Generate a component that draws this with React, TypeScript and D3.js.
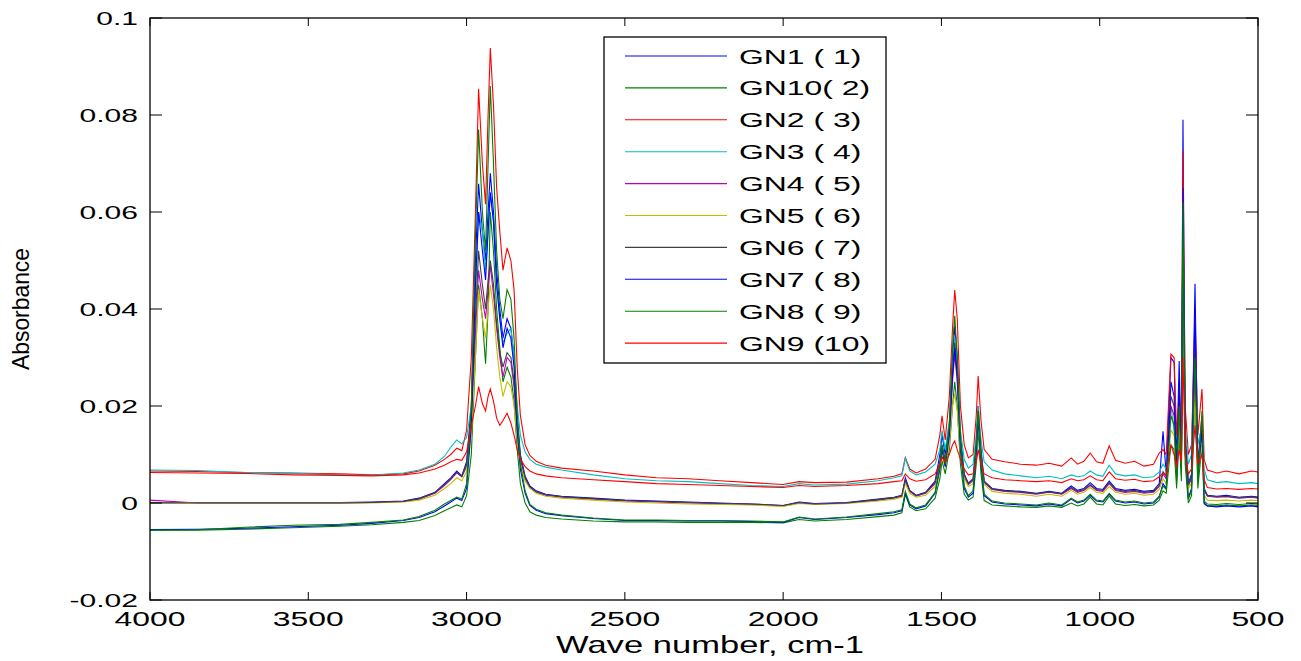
import React from "react";
import * as d3 from "d3";

const wavenumbers = [
  4000, 3850, 3700, 3550, 3400, 3300, 3200, 3150, 3100, 3070, 3050, 3031, 3015, 3000, 2985, 2972, 2962, 2950, 2940, 2932,
  2925, 2915, 2905, 2895, 2885, 2872, 2860, 2850, 2840, 2830, 2815, 2800, 2780, 2750, 2700, 2600, 2500, 2400, 2300, 2200,
  2100, 2000, 1950, 1900, 1800, 1700, 1650, 1625, 1614, 1600, 1580, 1550, 1520, 1505, 1498, 1488, 1475, 1465, 1458, 1450,
  1440, 1428, 1415, 1400, 1390, 1384, 1375, 1365, 1340, 1300, 1250, 1200, 1160, 1120, 1090, 1070, 1050, 1030, 1010, 990,
  970, 950, 920, 890, 860, 830, 812, 800, 790, 775, 765, 757, 749, 742, 737, 730, 720, 710, 699, 690,
  677, 670, 660, 630, 600, 560, 520, 500,
];

const GN1 = [
  0.0001, 0.0001, 0.0001, 0.0001, 0.0001, 0.0002, 0.0004, 0.0010, 0.0022, 0.0040, 0.0052, 0.0066, 0.0056, 0.0085, 0.0200, 0.0500, 0.0658, 0.0560, 0.0500, 0.0600,
  0.0680, 0.0600, 0.0480, 0.0400, 0.0340, 0.0380, 0.0360, 0.0300, 0.0180, 0.0100, 0.0055, 0.0035, 0.0025, 0.0018, 0.0014, 0.0010, 0.0006, 0.0004, 0.0002, 0.0000,
  -0.0002, -0.0005, 0.0002, -0.0001, 0.0001, 0.0008, 0.0012, 0.0016, 0.0052, 0.0026, 0.0016, 0.0022, 0.0045, 0.0100, 0.0140, 0.0100, 0.0160, 0.0300, 0.0365, 0.0300,
  0.0140, 0.0060, 0.0041, 0.0050, 0.0130, 0.0200, 0.0110, 0.0045, 0.0030, 0.0026, 0.0024, 0.0020, 0.0024, 0.0020, 0.0035, 0.0026, 0.0030, 0.0042, 0.0030, 0.0028,
  0.0045, 0.0030, 0.0026, 0.0028, 0.0024, 0.0026, 0.0040, 0.0148, 0.0060, 0.0300, 0.0290, 0.0080, 0.0293, 0.0100, 0.0790, 0.0150, 0.0040, 0.0060, 0.0452, 0.0080,
  0.0180, 0.0030, 0.0016, 0.0014, 0.0016, 0.0012, 0.0014, 0.0012,
];

const GN10 = [
  -0.0056, -0.0056, -0.0054, -0.0051, -0.0048, -0.0045, -0.0040, -0.0036, -0.0026, -0.0016, -0.0010, -0.0004, -0.0008, 0.0015, 0.0100, 0.0300, 0.0450, 0.0380, 0.0287, 0.0400,
  0.0600, 0.0520, 0.0400, 0.0320, 0.0250, 0.0280, 0.0260, 0.0210, 0.0110, 0.0040, 0.0000, -0.0018, -0.0025, -0.0030, -0.0033, -0.0037, -0.0039, -0.0039, -0.0040, -0.0040,
  -0.0040, -0.0041, -0.0034, -0.0037, -0.0034, -0.0028, -0.0025, -0.0020, 0.0018, -0.0008, -0.0016, -0.0012, 0.0010, 0.0050, 0.0087, 0.0060, 0.0110, 0.0200, 0.0250, 0.0200,
  0.0080, 0.0018, 0.0006, 0.0012, 0.0080, 0.0150, 0.0060, 0.0005, -0.0004, -0.0006, -0.0008, -0.0009, -0.0006, -0.0009, 0.0000, -0.0006, -0.0002, 0.0012, -0.0002, -0.0004,
  0.0014, -0.0002, -0.0005, -0.0003, -0.0006, -0.0004, 0.0006, 0.0025, 0.0020, 0.0120, 0.0110, 0.0030, 0.0140, 0.0045, 0.0480, 0.0080, 0.0000, 0.0015, 0.0220, 0.0030,
  0.0120, -0.0002, -0.0006, -0.0006, -0.0004, -0.0006, -0.0004, -0.0005,
];

const GN2 = [
  0.0066, 0.0065, 0.0063, 0.0062, 0.0060, 0.0058, 0.0060, 0.0066, 0.0078, 0.0090, 0.0100, 0.0113, 0.0108, 0.0150, 0.0300, 0.0600, 0.0854, 0.0700, 0.0616, 0.0800,
  0.0938, 0.0820, 0.0650, 0.0560, 0.0480, 0.0526, 0.0500, 0.0440, 0.0280, 0.0180, 0.0120, 0.0098, 0.0086, 0.0078, 0.0072, 0.0066, 0.0058, 0.0052, 0.0050, 0.0046,
  0.0042, 0.0038, 0.0044, 0.0042, 0.0043, 0.0050, 0.0055, 0.0060, 0.0094, 0.0070, 0.0062, 0.0070, 0.0090, 0.0140, 0.0180, 0.0130, 0.0220, 0.0360, 0.0439, 0.0380,
  0.0200, 0.0120, 0.0093, 0.0100, 0.0180, 0.0262, 0.0170, 0.0110, 0.0090, 0.0085, 0.0080, 0.0078, 0.0082, 0.0076, 0.0093, 0.0080, 0.0086, 0.0103, 0.0085, 0.0082,
  0.0118, 0.0088, 0.0082, 0.0086, 0.0076, 0.0080, 0.0103, 0.0110, 0.0100, 0.0307, 0.0300, 0.0140, 0.0230, 0.0150, 0.0726, 0.0200, 0.0100, 0.0120, 0.0380, 0.0140,
  0.0235, 0.0090, 0.0068, 0.0062, 0.0066, 0.0060, 0.0066, 0.0064,
];

const GN3 = [
  0.0068, 0.0067, 0.0063, 0.0061, 0.0058, 0.0057, 0.0062, 0.0068, 0.0080, 0.0096, 0.0115, 0.0130, 0.0122, 0.0135, 0.0200, 0.0420, 0.0600, 0.0560, 0.0480, 0.0560,
  0.0640, 0.0580, 0.0450, 0.0380, 0.0330, 0.0350, 0.0360, 0.0300, 0.0200, 0.0140, 0.0105, 0.0090, 0.0080, 0.0074, 0.0068, 0.0058, 0.0050, 0.0046, 0.0044, 0.0040,
  0.0036, 0.0034, 0.0040, 0.0037, 0.0039, 0.0046, 0.0052, 0.0056, 0.0092, 0.0066, 0.0058, 0.0064, 0.0080, 0.0110, 0.0150, 0.0110, 0.0170, 0.0280, 0.0340, 0.0290,
  0.0150, 0.0090, 0.0072, 0.0080, 0.0140, 0.0200, 0.0130, 0.0085, 0.0068, 0.0060, 0.0056, 0.0052, 0.0055, 0.0050, 0.0058, 0.0054, 0.0056, 0.0066, 0.0058, 0.0055,
  0.0078, 0.0060, 0.0056, 0.0058, 0.0052, 0.0054, 0.0064, 0.0080, 0.0070, 0.0200, 0.0150, 0.0100, 0.0180, 0.0120, 0.0600, 0.0160, 0.0080, 0.0100, 0.0330, 0.0120,
  0.0160, 0.0070, 0.0048, 0.0042, 0.0044, 0.0040, 0.0042, 0.0040,
];

const GN4 = [
  0.0006, 0.0000, 0.0000, 0.0000, 0.0000, 0.0001, 0.0003, 0.0008, 0.0020, 0.0036, 0.0048, 0.0062, 0.0054, 0.0075, 0.0160, 0.0350, 0.0480, 0.0420, 0.0380, 0.0440,
  0.0490, 0.0430, 0.0360, 0.0300, 0.0260, 0.0300, 0.0290, 0.0240, 0.0150, 0.0090, 0.0050, 0.0032, 0.0022, 0.0016, 0.0012, 0.0008, 0.0004, 0.0002, 0.0000, -0.0001,
  -0.0003, -0.0006, 0.0000, -0.0002, 0.0000, 0.0006, 0.0010, 0.0014, 0.0046, 0.0024, 0.0014, 0.0020, 0.0040, 0.0080, 0.0110, 0.0085, 0.0140, 0.0250, 0.0307, 0.0250,
  0.0120, 0.0055, 0.0038, 0.0046, 0.0110, 0.0180, 0.0100, 0.0042, 0.0028, 0.0024, 0.0022, 0.0018, 0.0022, 0.0018, 0.0030, 0.0022, 0.0026, 0.0036, 0.0026, 0.0024,
  0.0040, 0.0026, 0.0022, 0.0024, 0.0020, 0.0022, 0.0034, 0.0060, 0.0050, 0.0200, 0.0180, 0.0070, 0.0200, 0.0090, 0.0555, 0.0120, 0.0035, 0.0050, 0.0280, 0.0070,
  0.0150, 0.0026, 0.0014, 0.0012, 0.0013, 0.0010, 0.0012, 0.0010,
];

const GN5 = [
  0.0000, 0.0000, 0.0000, 0.0000, 0.0000, 0.0000, 0.0002, 0.0006, 0.0016, 0.0030, 0.0040, 0.0052, 0.0046, 0.0065, 0.0140, 0.0300, 0.0440, 0.0380, 0.0340, 0.0400,
  0.0450, 0.0400, 0.0320, 0.0260, 0.0220, 0.0250, 0.0240, 0.0200, 0.0130, 0.0080, 0.0045, 0.0030, 0.0020, 0.0014, 0.0010, 0.0006, 0.0002, 0.0000, -0.0002, -0.0003,
  -0.0004, -0.0007, -0.0001, -0.0003, -0.0001, 0.0004, 0.0008, 0.0012, 0.0040, 0.0020, 0.0012, 0.0016, 0.0034, 0.0070, 0.0095, 0.0075, 0.0120, 0.0200, 0.0225, 0.0190,
  0.0100, 0.0050, 0.0034, 0.0040, 0.0095, 0.0160, 0.0090, 0.0038, 0.0024, 0.0020, 0.0018, 0.0014, 0.0018, 0.0014, 0.0026, 0.0018, 0.0022, 0.0032, 0.0022, 0.0020,
  0.0034, 0.0022, 0.0018, 0.0020, 0.0016, 0.0018, 0.0028, 0.0050, 0.0040, 0.0150, 0.0140, 0.0060, 0.0160, 0.0080, 0.0450, 0.0100, 0.0030, 0.0040, 0.0220, 0.0060,
  0.0120, 0.0016, 0.0006, 0.0005, 0.0006, 0.0004, 0.0006, 0.0005,
];

const GN6 = [
  0.0000, 0.0000, 0.0000, 0.0000, 0.0000, 0.0001, 0.0003, 0.0009, 0.0021, 0.0038, 0.0050, 0.0064, 0.0055, 0.0080, 0.0180, 0.0380, 0.0520, 0.0450, 0.0400, 0.0460,
  0.0500, 0.0450, 0.0370, 0.0310, 0.0280, 0.0310, 0.0300, 0.0250, 0.0160, 0.0095, 0.0052, 0.0033, 0.0023, 0.0017, 0.0013, 0.0009, 0.0005, 0.0003, 0.0001, -0.0001,
  -0.0002, -0.0005, 0.0001, -0.0002, 0.0000, 0.0007, 0.0011, 0.0015, 0.0048, 0.0025, 0.0015, 0.0021, 0.0042, 0.0085, 0.0120, 0.0090, 0.0150, 0.0270, 0.0330, 0.0270,
  0.0130, 0.0058, 0.0040, 0.0048, 0.0120, 0.0190, 0.0105, 0.0044, 0.0029, 0.0025, 0.0023, 0.0019, 0.0023, 0.0019, 0.0032, 0.0024, 0.0028, 0.0038, 0.0028, 0.0026,
  0.0042, 0.0028, 0.0024, 0.0026, 0.0022, 0.0024, 0.0036, 0.0065, 0.0055, 0.0220, 0.0200, 0.0075, 0.0220, 0.0095, 0.0600, 0.0130, 0.0038, 0.0055, 0.0320, 0.0075,
  0.0160, 0.0028, 0.0015, 0.0013, 0.0014, 0.0011, 0.0013, 0.0011,
];

const GN7 = [
  -0.0055, -0.0054, -0.0052, -0.0049, -0.0046, -0.0042, -0.0036, -0.0030, -0.0018, -0.0006, 0.0002, 0.0010, 0.0005, 0.0030, 0.0160, 0.0450, 0.0600, 0.0520, 0.0460, 0.0560,
  0.0640, 0.0580, 0.0450, 0.0380, 0.0320, 0.0360, 0.0340, 0.0280, 0.0150, 0.0070, 0.0020, -0.0005, -0.0015, -0.0022, -0.0026, -0.0032, -0.0036, -0.0036, -0.0037, -0.0037,
  -0.0038, -0.0040, -0.0030, -0.0034, -0.0030, -0.0024, -0.0020, -0.0016, 0.0020, -0.0004, -0.0012, -0.0006, 0.0020, 0.0070, 0.0110, 0.0075, 0.0140, 0.0260, 0.0320, 0.0260,
  0.0110, 0.0030, 0.0012, 0.0020, 0.0100, 0.0175, 0.0080, 0.0015, 0.0002, -0.0002, -0.0004, -0.0006, -0.0002, -0.0006, 0.0008, 0.0000, 0.0004, 0.0016, 0.0004, 0.0002,
  0.0018, 0.0004, 0.0000, 0.0002, -0.0002, 0.0000, 0.0012, 0.0040, 0.0030, 0.0250, 0.0220, 0.0050, 0.0250, 0.0070, 0.0650, 0.0110, 0.0010, 0.0030, 0.0400, 0.0050,
  0.0150, 0.0000, -0.0006, -0.0008, -0.0006, -0.0008, -0.0006, -0.0008,
];

const GN8 = [
  -0.0056, -0.0055, -0.0050, -0.0046, -0.0044, -0.0040, -0.0035, -0.0028, -0.0015, -0.0002, 0.0005, 0.0012, 0.0008, 0.0040, 0.0200, 0.0550, 0.0770, 0.0600, 0.0520, 0.0700,
  0.0860, 0.0700, 0.0520, 0.0420, 0.0380, 0.0440, 0.0420, 0.0340, 0.0180, 0.0080, 0.0025, -0.0003, -0.0013, -0.0020, -0.0025, -0.0031, -0.0035, -0.0035, -0.0036, -0.0036,
  -0.0037, -0.0039, -0.0029, -0.0033, -0.0029, -0.0022, -0.0018, -0.0014, 0.0024, -0.0002, -0.0010, -0.0004, 0.0022, 0.0075, 0.0120, 0.0080, 0.0160, 0.0320, 0.0386, 0.0300,
  0.0120, 0.0035, 0.0015, 0.0025, 0.0120, 0.0190, 0.0090, 0.0018, 0.0004, 0.0000, -0.0002, -0.0004, 0.0000, -0.0004, 0.0010, 0.0002, 0.0006, 0.0018, 0.0006, 0.0004,
  0.0020, 0.0006, 0.0002, 0.0004, 0.0000, 0.0002, 0.0014, 0.0035, 0.0028, 0.0180, 0.0160, 0.0045, 0.0200, 0.0060, 0.0620, 0.0100, 0.0008, 0.0025, 0.0300, 0.0045,
  0.0190, 0.0004, -0.0002, -0.0003, -0.0001, -0.0003, -0.0001, -0.0002,
];

const GN9 = [
  0.0063, 0.0062, 0.0061, 0.0058, 0.0057, 0.0056, 0.0058, 0.0062, 0.0070, 0.0078, 0.0085, 0.0090, 0.0088, 0.0105, 0.0160, 0.0200, 0.0240, 0.0205, 0.0190, 0.0220,
  0.0235, 0.0210, 0.0175, 0.0160, 0.0170, 0.0185, 0.0165, 0.0140, 0.0110, 0.0090, 0.0075, 0.0066, 0.0060, 0.0056, 0.0052, 0.0048, 0.0044, 0.0040, 0.0038, 0.0036,
  0.0034, 0.0032, 0.0036, 0.0034, 0.0036, 0.0040, 0.0044, 0.0046, 0.0060, 0.0050, 0.0045, 0.0048, 0.0060, 0.0080, 0.0095, 0.0085, 0.0100, 0.0120, 0.0128, 0.0110,
  0.0090, 0.0070, 0.0058, 0.0060, 0.0085, 0.0110, 0.0080, 0.0060, 0.0052, 0.0048, 0.0046, 0.0044, 0.0046, 0.0042, 0.0050, 0.0046, 0.0048, 0.0056, 0.0048, 0.0046,
  0.0064, 0.0050, 0.0047, 0.0049, 0.0044, 0.0046, 0.0054, 0.0062, 0.0058, 0.0120, 0.0100, 0.0075, 0.0110, 0.0085, 0.0300, 0.0100, 0.0060, 0.0070, 0.0160, 0.0080,
  0.0100, 0.0048, 0.0032, 0.0029, 0.0030, 0.0028, 0.0030, 0.0029,
];

const seriesNames = ["GN1 ( 1)", "GN10( 2)", "GN2 ( 3)", "GN3 ( 4)", "GN4 ( 5)", "GN5 ( 6)", "GN6 ( 7)", "GN7 ( 8)", "GN8 ( 9)", "GN9 (10)"];
const seriesValues = [GN1, GN10, GN2, GN3, GN4, GN5, GN6, GN7, GN8, GN9];
const seriesColors = ["#0000ff", "#008000", "#ff0000", "#00bfbf", "#bf00bf", "#bfbf00", "#404040", "#0000ff", "#008000", "#ff0000"];

const xTicks = [4000, 3500, 3000, 2500, 2000, 1500, 1000, 500];
const xTickLabels = ["4000", "3500", "3000", "2500", "2000", "1500", "1000", "500"];
const yTicks = [-0.02, 0, 0.02, 0.04, 0.06, 0.08, 0.1];
const yTickLabels = ["-0.02", "0", "0.02", "0.04", "0.06", "0.08", "0.1"];

const FONT = "'Liberation Sans', Arial, sans-serif";

export default function App() {
  const W = 1301;
  const H = 661;
  const left = 150, right = 1258, top = 18, bottom = 600;
  const x = d3.scaleLinear().domain([4000, 500]).range([left, right]);
  const y = d3.scaleLinear().domain([-0.02, 0.1]).range([bottom, top]);
  const line = d3
    .line<number>()
    .x((_, i) => x(wavenumbers[i]))
    .y((d) => y(d));

  const legendX = 604, legendY = 37, legendW = 282, legendH = 326;
  const rowY0 = 56, rowStep = 31.9;

  return (
    <svg
      width={W}
      height={H}
      style={{ position: "absolute", left: 0, top: 0, background: "#fff" }}
      fontFamily={FONT}
    >
      <rect x={0} y={0} width={W} height={H} fill="#fff" />
      <defs>
        <clipPath id="plotclip">
          <rect x={left} y={top} width={right - left} height={bottom - top} />
        </clipPath>
      </defs>
      <g clipPath="url(#plotclip)">
        {seriesValues.map((vals, k) => (
          <path key={k} d={line(vals) || ""} fill="none" stroke={seriesColors[k]} strokeWidth={1.1} strokeLinejoin="miter" />
        ))}
      </g>
      {/* frame */}
      <rect x={left} y={top} width={right - left} height={bottom - top} fill="none" stroke="#000" strokeWidth={1.3} />
      {/* x ticks */}
      {xTicks.map((t, i) => (
        <g key={"xt" + i}>
          <line x1={x(t)} x2={x(t)} y1={bottom} y2={bottom - 8} stroke="#000" strokeWidth={1} />
          <line x1={x(t)} x2={x(t)} y1={top} y2={top + 8} stroke="#000" strokeWidth={1} />
          <text
            transform={`translate(${x(t)},626) scale(1.52,1)`}
            textAnchor="middle"
            fontSize={21}
            fill="#000"
          >
            {xTickLabels[i]}
          </text>
        </g>
      ))}
      {/* y ticks */}
      {yTicks.map((t, i) => (
        <g key={"yt" + i}>
          <line x1={left} x2={left + 12} y1={y(t)} y2={y(t)} stroke="#000" strokeWidth={1} />
          <line x1={right} x2={right - 12} y1={y(t)} y2={y(t)} stroke="#000" strokeWidth={1} />
          <text
            transform={`translate(138,${y(t) + 6.8}) scale(1.58,1)`}
            textAnchor="end"
            fontSize={19}
            fill="#000"
          >
            {yTickLabels[i]}
          </text>
        </g>
      ))}
      {/* axis labels */}
      <text
        transform={`translate(${(left + right) / 2 + 6},653) scale(1.44,1)`}
        textAnchor="middle"
        fontSize={24}
        fill="#000"
      >
        Wave number, cm-1
      </text>
      <text
        transform={`translate(29,${(top + bottom) / 2}) rotate(-90)`}
        textAnchor="middle"
        fontSize={24}
        textLength={122}
        lengthAdjust="spacingAndGlyphs"
        fill="#000"
      >
        Absorbance
      </text>
      {/* legend */}
      <rect x={legendX} y={legendY} width={legendW} height={legendH} fill="#fff" stroke="#000" strokeWidth={1.3} />
      {seriesNames.map((name, k) => {
        const ry = rowY0 + k * rowStep;
        return (
          <g key={"lg" + k}>
            <line x1={625} x2={727} y1={ry} y2={ry} stroke={seriesColors[k]} strokeWidth={1.1} />
            <text
              transform={`translate(739,${ry + 7.5}) scale(1.52,1)`}
              fontSize={21}
              fill="#000"
              style={{ whiteSpace: "pre" }}
            >
              {name}
            </text>
          </g>
        );
      })}
    </svg>
  );
}
